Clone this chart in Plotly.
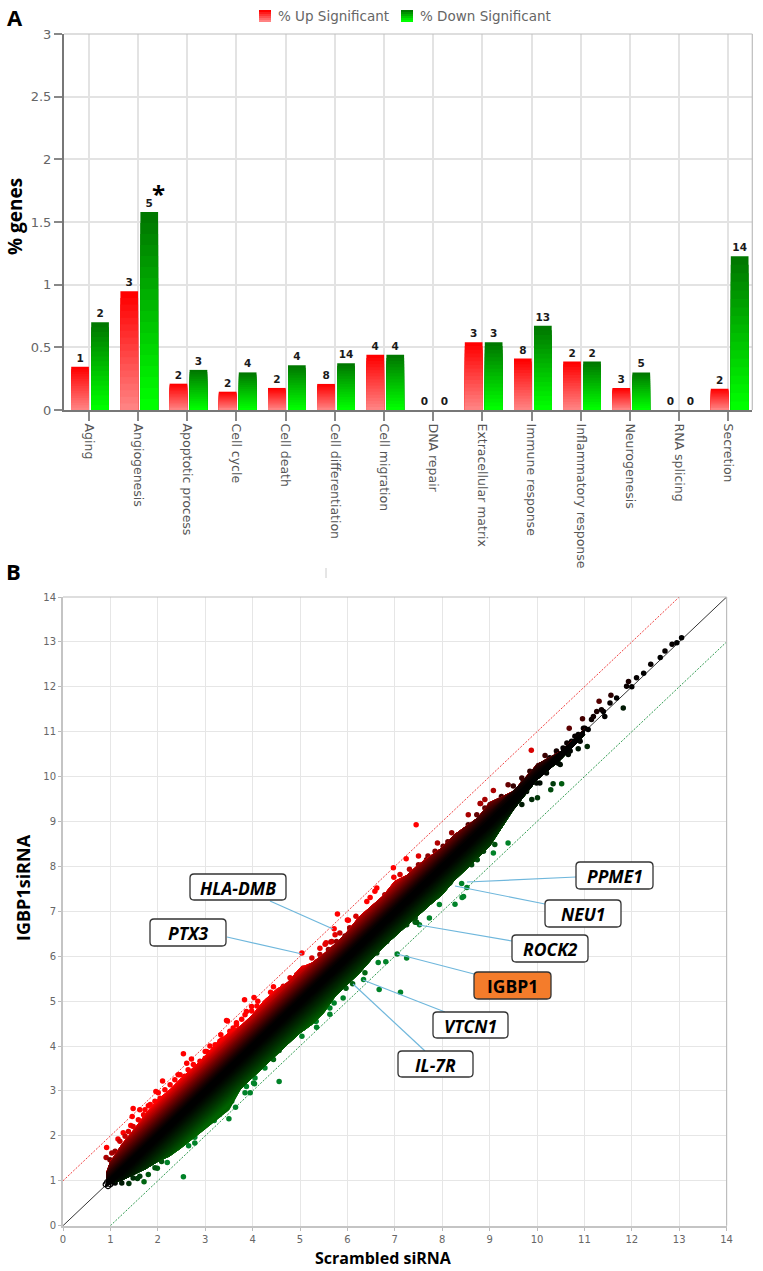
import plotly.graph_objects as go

W, H = 763, 1271

# ---------- Panel A data ----------
categories = ["Aging", "Angiogenesis", "Apoptotic process", "Cell cycle", "Cell death",
              "Cell differentiation", "Cell migration", "DNA repair", "Extracellular matrix",
              "Immune response", "Inflammatory response", "Neurogenesis", "RNA splicing", "Secretion"]
up_pct = [0.345, 0.947, 0.21, 0.146, 0.176, 0.208, 0.44, 0, 0.54, 0.41, 0.386, 0.176, 0, 0.17]
down_pct = [0.70, 1.58, 0.32, 0.30, 0.357, 0.373, 0.44, 0, 0.54, 0.673, 0.386, 0.30, 0, 1.227]
up_count = [1, 3, 2, 2, 2, 8, 4, 0, 3, 8, 2, 3, 0, 2]
down_count = [2, 5, 3, 4, 4, 14, 4, 0, 3, 13, 2, 5, 0, 14]
a_ticks = [0, 0.5, 1, 1.5, 2, 2.5, 3]
a_ticktext = ["0", "0.5", "1", "1.5", "2", "2.5", "3"]

# ---------- Panel B data: edge of the dense cloud, read at each x ----------
band_x = [0.92, 1.0, 1.25, 1.5, 1.75, 2.0, 2.25, 2.5, 2.75, 3.0, 3.25, 3.5, 3.75, 4.0, 4.25, 4.5, 4.75, 5.0,
          5.25, 5.5, 5.75, 6.0, 6.25, 6.5, 6.75, 7.0, 7.25, 7.5, 7.75, 8.0, 8.25, 8.5, 8.75, 9.0, 9.5, 10.0, 10.5, 11.0]
band_up = [1.18, 1.42, 1.82, 2.14, 2.50, 2.81, 3.02, 3.29, 3.52, 3.77, 4.08, 4.30, 4.45, 4.70, 5.02, 5.26, 5.42, 5.74,
           5.85, 6.05, 6.28, 6.55, 6.88, 7.11, 7.34, 7.67, 7.80, 8.04, 8.22, 8.42, 8.70, 8.89, 9.08, 9.42, 9.67, 10.27, 10.56, 11.05]
band_lo = [0.90, 0.95, 1.02, 1.14, 1.27, 1.43, 1.55, 1.74, 1.95, 2.14, 2.36, 2.58, 3.05, 3.30, 3.55, 3.82, 4.05, 4.29,
           4.48, 4.74, 5.12, 5.37, 5.62, 5.92, 6.20, 6.44, 6.68, 6.93, 7.15, 7.37, 7.68, 7.93, 8.20, 8.45, 9.26, 9.93, 10.38, 10.93]

# Individually visible points
pt_x = [2.54, 1.48, 2.10, 1.96, 0.91, 0.92, 1.16, 1.27, 1.43, 1.46, 1.62, 1.80, 2.43, 2.61, 2.71, 3.03, 3.45,
        5.79, 5.72, 5.04, 6.02, 6.18, 5.55, 5.42, 5.67, 3.83, 4.03, 4.11, 4.44, 4.38, 3.47, 3.77, 3.87, 3.98, 3.33, 3.59, 3.00,
        7.45, 7.24, 6.97, 6.62, 6.58, 6.48, 6.41, 7.11, 7.31, 6.98, 7.50, 7.90, 8.12, 7.70, 8.90, 8.80, 8.55, 6.00, 5.74, 5.53, 5.65,
        9.88, 10.68, 11.31, 10.96, 9.08, 10.17, 11.56, 9.39, 8.81, 11.93,
        11.89, 11.68, 11.40, 11.26, 11.15, 11.01, 10.87, 10.73, 10.55, 10.42, 10.27, 10.13, 10.03, 9.89, 9.71,
        13.05, 12.95, 12.85, 12.70, 12.60, 12.40, 12.25, 12.10, 12.00,
        7.05, 8.27, 8.42, 7.73, 7.94, 7.52, 7.43, 8.52, 8.41, 8.74, 8.62, 8.87,
        7.25, 6.65, 6.81, 7.12, 6.67, 6.34, 6.11, 5.97, 4.56, 4.26, 4.44, 4.04, 5.35, 5.63, 5.91, 5.33, 5.07, 7.46,
        9.39, 8.45, 9.11, 9.08,
        2.54, 1.71, 1.39, 1.57, 1.99, 2.20, 2.65, 2.78, 2.78, 3.00, 3.19, 3.30, 3.50, 3.64, 3.56, 3.95, 4.02, 3.84, 2.26,
        4.37, 4.56, 5.04, 5.34, 5.63, 5.72, 6.12, 6.37,
        11.82, 11.06, 10.87, 10.66, 10.49, 10.52, 10.34, 10.29, 10.01, 10.06, 9.68, 9.89]
pt_y = [3.83, 2.61, 3.22, 2.99, 1.52, 1.74, 1.93, 2.07, 2.23, 2.43, 2.58, 2.67, 3.36, 3.62, 3.71, 3.88, 4.57,
        6.94, 6.61, 6.07, 6.80, 6.89, 6.30, 6.18, 6.33, 5.03, 5.08, 5.00, 5.32, 5.20, 4.56, 4.60, 4.77, 4.88, 4.25, 4.40, 3.88,
        8.93, 8.17, 7.97, 7.52, 7.45, 7.31, 7.22, 7.82, 7.94, 7.76, 8.23, 8.52, 8.55, 8.23, 9.49, 9.40, 9.15, 6.81, 6.48, 6.27, 6.32,
        10.59, 11.08, 11.68, 11.29, 9.69, 10.47, 11.81, 9.82, 9.40, 12.12,
        12.01, 11.75, 11.45, 11.45, 11.27, 11.08, 10.94, 10.79, 10.64, 10.49, 10.34, 10.23, 10.12, 10.01, 9.90,
        13.09, 12.98, 12.95, 12.80, 12.65, 12.50, 12.30, 12.20, 12.00,
        6.05, 7.16, 7.31, 6.85, 7.15, 6.70, 6.76, 7.53, 7.62, 8.15, 8.04, 8.34,
        5.96, 5.86, 5.88, 5.20, 5.26, 5.48, 5.39, 5.29, 3.21, 3.51, 3.70, 3.16, 4.42, 4.71, 5.07, 4.55, 4.40, 6.76,
        8.52, 7.33, 8.49, 8.30,
        1.09, 0.98, 0.94, 1.05, 1.28, 1.41, 1.78, 1.97, 1.84, 2.25, 2.34, 2.47, 2.38, 2.64, 2.77, 2.96, 3.18, 2.96, 1.77,
        3.83, 3.90, 4.22, 4.55, 4.85, 4.96, 5.57, 5.63,
        11.53, 10.67, 10.62, 10.49, 10.27, 9.84, 9.84, 9.71, 9.53, 9.86, 9.38, 9.49]

# Points that make the rough rim of the cloud (upper rim)
rim_up_x = [0.99, 1.03, 1.10, 1.20, 1.31, 1.38, 1.48, 1.59, 1.70, 1.73, 1.84, 1.94, 2.05, 2.01, 2.15, 2.26, 2.36, 2.47,
            2.57, 2.64, 2.75, 2.89, 3.00, 3.10, 3.21, 3.35, 3.52, 3.66,
            3.10, 3.31, 3.52, 3.66, 3.84, 3.98, 4.09, 4.26, 4.40, 4.58, 4.65, 4.79, 4.93, 5.07, 5.25, 5.42, 5.60, 5.77, 5.95,
            6.05, 6.26, 6.41,
            5.84, 6.05, 6.27, 6.44, 6.65, 6.79, 7.00, 7.18, 7.39, 7.50, 7.67, 7.85, 8.02, 8.20, 8.38, 8.55, 8.73, 8.90,
            9.01, 9.25, 9.50, 9.68, 9.85, 10.03, 10.27, 10.41, 10.63, 10.80, 10.98, 11.19, 11.36, 11.54]
rim_up_y = [1.47, 1.62, 1.66, 1.88, 1.99, 2.10, 2.21, 2.36, 2.47, 2.58, 2.70, 2.77, 2.84, 2.96, 3.03, 3.14, 3.25, 3.36,
            3.33, 3.47, 3.59, 3.66, 3.73, 3.85, 4.03, 4.14, 4.25, 4.48,
            4.00, 4.11, 4.33, 4.52, 4.70, 4.78, 4.89, 4.96, 5.07, 5.15, 5.33, 5.52, 5.59, 5.74, 5.96, 6.04, 6.15, 6.33, 6.45,
            6.63, 6.74, 6.93,
            6.52, 6.63, 6.78, 6.96, 7.15, 7.37, 7.52, 7.71, 7.85, 8.04, 8.15, 8.34, 8.45, 8.75, 8.71, 8.93, 9.15, 9.30,
            9.38, 9.56, 9.79, 9.97, 10.12, 10.25, 10.42, 10.57, 10.75, 10.90, 11.08, 11.34, 11.49, 11.64]
# (lower rim)
rim_lo_x = [1.10, 1.24, 1.48, 1.62, 1.80, 1.94, 2.08, 2.26, 2.40, 2.57, 2.71, 2.93, 3.07, 3.21, 3.38, 3.56, 3.70, 3.87, 4.05,
            4.30, 4.47, 4.68, 4.86, 5.07, 5.14, 5.32, 5.53, 5.70, 5.84, 6.02, 6.19, 6.37,
            6.62, 6.83, 7.00, 7.25, 7.43, 7.60, 7.81, 7.99, 8.16, 8.34, 8.52, 8.73, 8.90,
            9.50, 9.78, 9.99, 10.20, 10.45, 10.70, 10.91, 11.08, 11.43]
rim_lo_y = [0.95, 0.95, 1.06, 1.10, 1.14, 1.29, 1.43, 1.66, 1.73, 1.92, 2.03, 2.18, 2.40, 2.51, 2.77, 2.99, 3.07, 3.10, 3.29,
            3.74, 4.00, 4.22, 4.44, 4.59, 4.70, 4.81, 4.96, 5.18, 5.37, 5.48, 5.70, 5.89,
            6.07, 6.33, 6.52, 6.70, 6.85, 7.11, 7.33, 7.48, 7.63, 7.97, 8.11, 8.30, 8.49,
            9.34, 9.67, 9.86, 10.08, 10.30, 10.57, 10.79, 11.05, 11.34]

start_x = [0.90, 0.95, 1.00, 0.93, 0.98, 1.03]
start_y = [0.92, 0.88, 0.92, 0.97, 0.98, 0.96]

b_ticks = list(range(15))

# Callouts: label, box (px left, right, top, bottom), line (px from -> to)
callouts = [
    ("HLA-DMB", 190, 286, 874, 900, 270, 901, 333, 929),
    ("PTX3", 150, 226, 919, 946, 227, 937, 302, 954),
    ("PPME1", 576, 653, 862, 889, 576, 877, 467, 882),
    ("NEU1", 545, 621, 900, 927, 545, 904, 455, 886),
    ("ROCK2", 512, 588, 935, 962, 512, 941, 419, 925),
    ("IGBP1", 474, 551, 972, 999, 474, 974, 397, 954),
    ("VTCN1", 433, 508, 1012, 1038, 445, 1012, 363, 980),
    ("IL-7R", 398, 473, 1051, 1077, 425, 1051, 353, 984),
]


def PX(p):
    return p / W


def PY(p):
    return 1 - p / H


def shade(d):
    v = min(1.0, max(0.0, (abs(d) - 0.06) / 0.74))
    return v ** 1.3


def red_col(d):
    return f"rgb({int(255 * shade(d))},0,0)"


def green_col(d):
    return f"rgb(0,{int(100 * shade(d))},0)"


def point_col(x, y):
    d = y - x
    if d >= 0:
        return f"rgb({int(255 * shade(d))},0,0)"
    if d <= -0.75:
        return "rgb(0,130,40)"
    return f"rgb(0,{int(115 * shade(d))},{int(20 * shade(d))})"


fig = go.Figure()

# ---- Panel A bars with vertical gradient (layered, tallest first) ----
STEP = 49.2
BW = 17.7 / STEP
N = 18
for side, vals, counts, off, top, bot in [
    ("% Up Significant", up_pct, up_count, -17.5 / STEP, (255, 0, 0), (255, 130, 130)),
    ("% Down Significant", down_pct, down_count, 2.5 / STEP, (0, 120, 0), (0, 255, 0)),
]:
    for i in range(N):
        f = 1 - i / N
        t = i / (N - 1)
        c = tuple(int(top[k] + (bot[k] - top[k]) * t) for k in range(3))
        fig.add_trace(go.Bar(
            x=list(range(len(categories))), y=[v * f for v in vals],
            width=BW, offset=off, xaxis="x", yaxis="y", showlegend=False,
            marker=dict(color=f"rgb{c}", line=dict(width=0)),
            text=[str(n) for n in counts] if i == 0 else None,
            textposition="outside" if i == 0 else None,
            textangle=0,
            cliponaxis=False,
            textfont=dict(family="DejaVu Sans", size=10.5, color="#1a1a1a", weight="bold"),
            hoverinfo="skip",
        ))

# ---- Panel B ----
fig.add_trace(go.Scatter(x=[0, 14], y=[0, 14], mode="lines", xaxis="x2", yaxis="y2", showlegend=False,
                         line=dict(color="#333333", width=1)))
fig.add_trace(go.Scatter(x=[0, 13], y=[1, 14], mode="lines", xaxis="x2", yaxis="y2", showlegend=False,
                         line=dict(color="#f04040", width=1, dash="2px,1.5px")))
fig.add_trace(go.Scatter(x=[1, 14], y=[0, 13], mode="lines", xaxis="x2", yaxis="y2", showlegend=False,
                         line=dict(color="#2f9a4f", width=1, dash="2px,1.5px")))

all_x = pt_x + rim_up_x + rim_lo_x
all_y = pt_y + rim_up_y + rim_lo_y
fig.add_trace(go.Scatter(x=all_x, y=all_y, mode="markers", xaxis="x2", yaxis="y2", showlegend=False,
                         marker=dict(size=5.5, color=[point_col(a, b) for a, b in zip(all_x, all_y)], line=dict(width=0))))

LEVELS = 26
for j in range(LEVELS):
    d = 1.0 * (1 - j / LEVELS)
    ux = [a + min(d, u - a) for a, u in zip(band_x, band_up)]
    fig.add_trace(go.Scatter(x=band_x + band_x[::-1], y=ux + band_x[::-1], fill="toself", mode="lines",
                             xaxis="x2", yaxis="y2", showlegend=False, hoverinfo="skip",
                             line=dict(width=0.5, color=red_col(d)), fillcolor=red_col(d)))
    lx = [a - min(d, a - l) for a, l in zip(band_x, band_lo)]
    fig.add_trace(go.Scatter(x=band_x + band_x[::-1], y=lx + band_x[::-1], fill="toself", mode="lines",
                             xaxis="x2", yaxis="y2", showlegend=False, hoverinfo="skip",
                             line=dict(width=0.5, color=green_col(d)), fillcolor=green_col(d)))

fig.add_trace(go.Scatter(x=start_x, y=start_y, mode="markers", xaxis="x2", yaxis="y2", showlegend=False,
                         marker=dict(size=5, color="rgba(0,0,0,0)", line=dict(width=1.2, color="black"))))

shapes = []
annots = []


def note(x, y, text, size, color="black", bold=False, italic=False, family="Open Sans", angle=0, xanchor="center"):
    annots.append(dict(xref="paper", yref="paper", x=PX(x), y=PY(y), text=text, showarrow=False,
                       xanchor=xanchor, yanchor="middle", textangle=angle,
                       font=dict(family=family, size=size, color=color,
                                 weight="bold" if bold else "normal",
                                 style="italic" if italic else "normal")))


def rrect(l, r, t, b, rad, fill, line="#333333"):
    x0, x1 = PX(l), PX(r)
    y0, y1 = PY(t), PY(b)
    rx, ry = rad / W, rad / H
    path = (f"M {x0 + rx},{y0} L {x1 - rx},{y0} Q {x1},{y0} {x1},{y0 - ry} L {x1},{y1 + ry} "
            f"Q {x1},{y1} {x1 - rx},{y1} L {x0 + rx},{y1} Q {x0},{y1} {x0},{y1 + ry} L {x0},{y0 - ry} "
            f"Q {x0},{y0} {x0 + rx},{y0} Z")
    shapes.append(dict(type="path", xref="paper", yref="paper", path=path, fillcolor=fill,
                       line=dict(color=line, width=1.3)))


for name, l, r, t, b, x0, y0, x1, y1 in callouts:
    shapes.append(dict(type="line", xref="paper", yref="paper", x0=PX(x0), y0=PY(y0), x1=PX(x1), y1=PY(y1),
                       line=dict(color="#6fb7dc", width=1.2)))
for name, l, r, t, b, x0, y0, x1, y1 in callouts:
    orange = name == "IGBP1"
    rrect(l, r, t, b, 4, "#F47C2B" if orange else "white")
    note((l + r) / 2, (t + b) / 2 + 0.5, name, 17.5, bold=True, italic=not orange, family="Open Sans")

# legend of panel A
for lx, top, bot, label in [(259, (255, 0, 0), (255, 130, 130), "% Up Significant"),
                            (401, (0, 120, 0), (0, 255, 0), "% Down Significant")]:
    for k in range(6):
        t = k / 5
        c = tuple(int(top[m] + (bot[m] - top[m]) * t) for m in range(3))
        shapes.append(dict(type="rect", xref="paper", yref="paper", x0=PX(lx), x1=PX(lx + 12),
                           y0=PY(10 + 2 * k), y1=PY(12 + 2 * k), fillcolor=f"rgb{c}", line=dict(width=0)))
    note(lx + 17, 16, label, 13.5, color="#666666", family="DejaVu Sans", xanchor="left")

shapes.append(dict(type="line", xref="paper", yref="paper", x0=PX(326), x1=PX(326), y0=PY(568), y1=PY(578),
                   line=dict(color="#cccccc", width=1)))

# thin frame on the open sides of both plot areas
for ax0, ax1, ay0, ay1 in [(64, 752.3, 34, 410), (63, 726.6, 597, 1225.7)]:
    shapes.append(dict(type="line", xref="paper", yref="paper", x0=PX(ax0), x1=PX(ax1), y0=PY(ay0), y1=PY(ay0),
                       line=dict(color="#bdbdbd", width=1.2)))
    shapes.append(dict(type="line", xref="paper", yref="paper", x0=PX(ax1), x1=PX(ax1), y0=PY(ay0), y1=PY(ay1),
                       line=dict(color="#bdbdbd", width=1.2)))

note(15, 17, "A", 22, bold=True)
note(13, 571, "B", 22, bold=True)
note(15, 217, "% genes", 19, bold=True, angle=-90)
note(23, 888, "IGBP1siRNA", 18, bold=True, angle=-90)
note(384, 1258, "Scrambled siRNA", 16, bold=True)
note(158, 193, "*", 24, bold=True)

fig.update_layout(
    width=W, height=H, autosize=False, margin=dict(l=0, r=0, t=0, b=0, autoexpand=False),
    paper_bgcolor="white", plot_bgcolor="white", barmode="overlay", showlegend=False,
    shapes=shapes, annotations=annots,
    xaxis=dict(domain=[PX(64), PX(752.3)], range=[(64 - 88.7) / STEP, (752.3 - 88.7) / STEP],
               tickmode="array", tickvals=list(range(len(categories))), ticktext=categories, tickangle=90,
               tickfont=dict(family="DejaVu Sans", size=12.5, color="#555555"),
               showgrid=True, gridcolor="#e3e3e3", gridwidth=1.5, ticks="outside", ticklen=9, tickcolor="#888888",
               tickwidth=1.5, showline=True, linecolor="#777777", linewidth=2, mirror=False, zeroline=False),
    yaxis=dict(domain=[PY(410), PY(34)], range=[0, 3], tickmode="array", tickvals=a_ticks, ticktext=a_ticktext,
               tickfont=dict(family="DejaVu Sans", size=13, color="#666666"),
               showgrid=True, gridcolor="#e3e3e3", gridwidth=1.5, ticks="outside", ticklen=8, tickcolor="#888888",
               tickwidth=1.5, showline=True, linecolor="#777777", linewidth=2, zeroline=False),
    xaxis2=dict(domain=[PX(63), PX(726.6)], range=[0, 14], anchor="y2", tickmode="array", tickvals=b_ticks,
                tickfont=dict(family="DejaVu Sans", size=10, color="#666666"),
                showgrid=True, gridcolor="#e6e6e6", gridwidth=1.2, ticks="outside", ticklen=3, tickcolor="#bbbbbb",
                showline=True, linecolor="#c4c4c4", linewidth=2, zeroline=False),
    yaxis2=dict(domain=[PY(1225.7), PY(597)], range=[0, 14], anchor="x2", tickmode="array", tickvals=b_ticks,
                tickfont=dict(family="DejaVu Sans", size=10, color="#666666"),
                showgrid=True, gridcolor="#e6e6e6", gridwidth=1.2, ticks="outside", ticklen=3, tickcolor="#bbbbbb",
                showline=True, linecolor="#c4c4c4", linewidth=2, zeroline=False),
)

fig.write_html("out.html", config=dict(displayModeBar=False), post_script="document.body.style.margin='0';")
